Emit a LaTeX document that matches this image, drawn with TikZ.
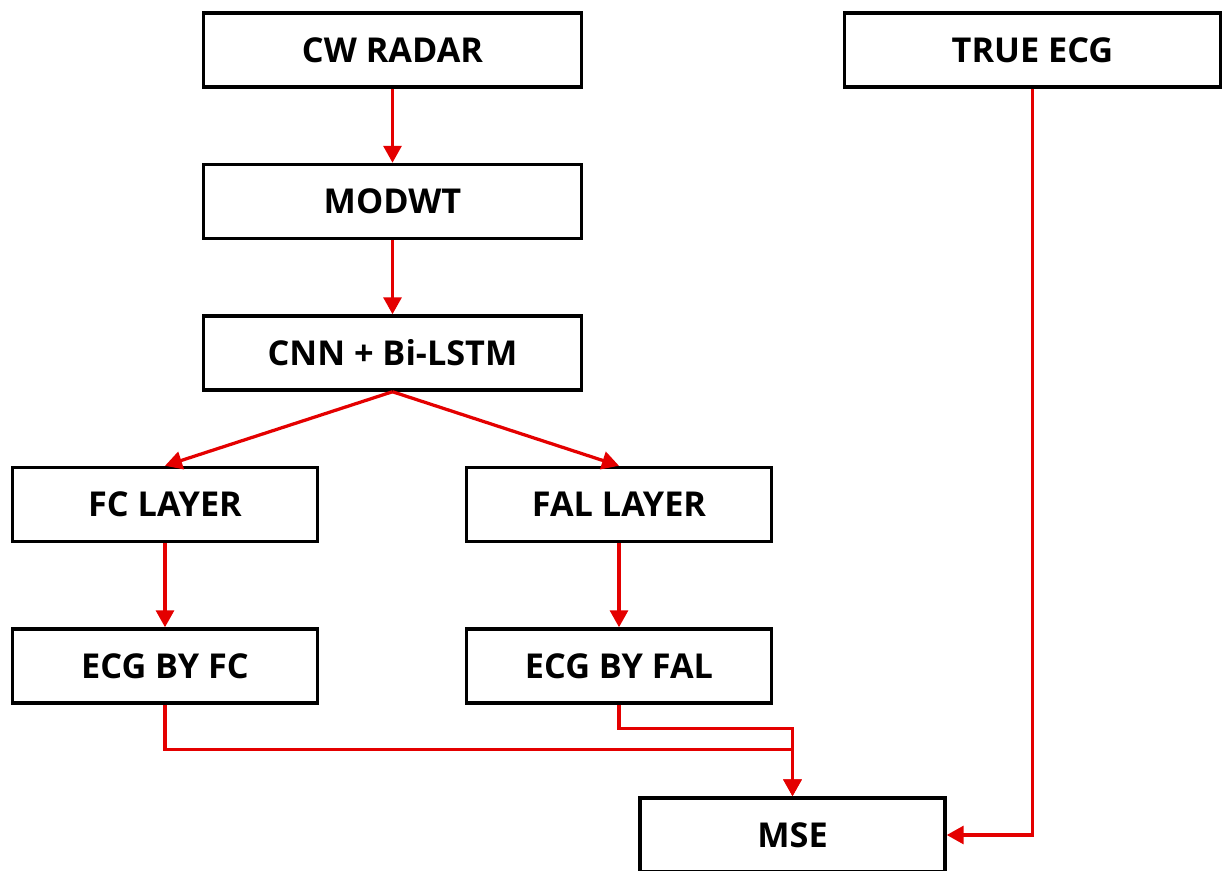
\documentclass[tikz,border=0pt]{standalone}
\usepackage{fontspec}
\setmainfont{Open Sans}
\usetikzlibrary{arrows.meta, calc, positioning}
\definecolor{lnkred}{RGB}{228,0,0}
\tikzset{%
    blk/.style={draw=black, line width=0.07cm, fill=white, minimum width=7.56cm, minimum height=1.48cm,
        font=\fontsize{19.5}{22}\selectfont\bfseries, inner sep=0pt},
    sblk/.style={blk, minimum width=6.1cm},
    lnk/.style={draw=lnkred, line width=0.065cm, -{Triangle[length=0.34cm, width=0.36cm]}},
}

\begin{document}
\begin{tikzpicture}[x=0.02cm, y=-0.02cm]
    \useasboundingbox (0,0) rectangle (1223,871);
    % left column
    \node [blk] (cw) at (392.5,50) {CW RADAR};
    \node [blk] (modwt) at (392.5,201.5) {MODWT};
    \node [blk] (cnn) at (392.5,353) {CNN + Bi-LSTM};
    \node [sblk] (fc) at (165,504.5) {FC LAYER};
    \node [sblk] (fal) at (619,504.5) {FAL LAYER};
    \node [sblk] (ecgfc) at (165,666) {ECG BY FC};
    \node [sblk] (ecgfal) at (619,666) {ECG BY FAL};
    % right column
    \node [blk, minimum width=7.52cm] (true) at (1032.5,50) {TRUE ECG};
    \node [sblk] (mse) at (792.5,835) {MSE};
    \coordinate (jfc) at ($(mse.north)+(0,-47)$);
    \coordinate (jfal) at ($(mse.north)+(0,-68)$);
    \draw [lnk] (cw) -- (modwt);
    \draw [lnk] (modwt) -- (cnn);
    \draw [lnk] (cnn.south) -- (fc.north);
    \draw [lnk] (cnn.south) -- (fal.north);
    \draw [lnk] (fc) -- (ecgfc);
    \draw [lnk] (fal) -- (ecgfal);
    \draw [lnk] (ecgfc.south) |- (jfc) -- (mse.north);
    \draw [lnk] (ecgfal.south) |- (jfal) -- (mse.north);
    \draw [lnk] (true.south) |- (mse.east);
\end{tikzpicture}
\end{document}
